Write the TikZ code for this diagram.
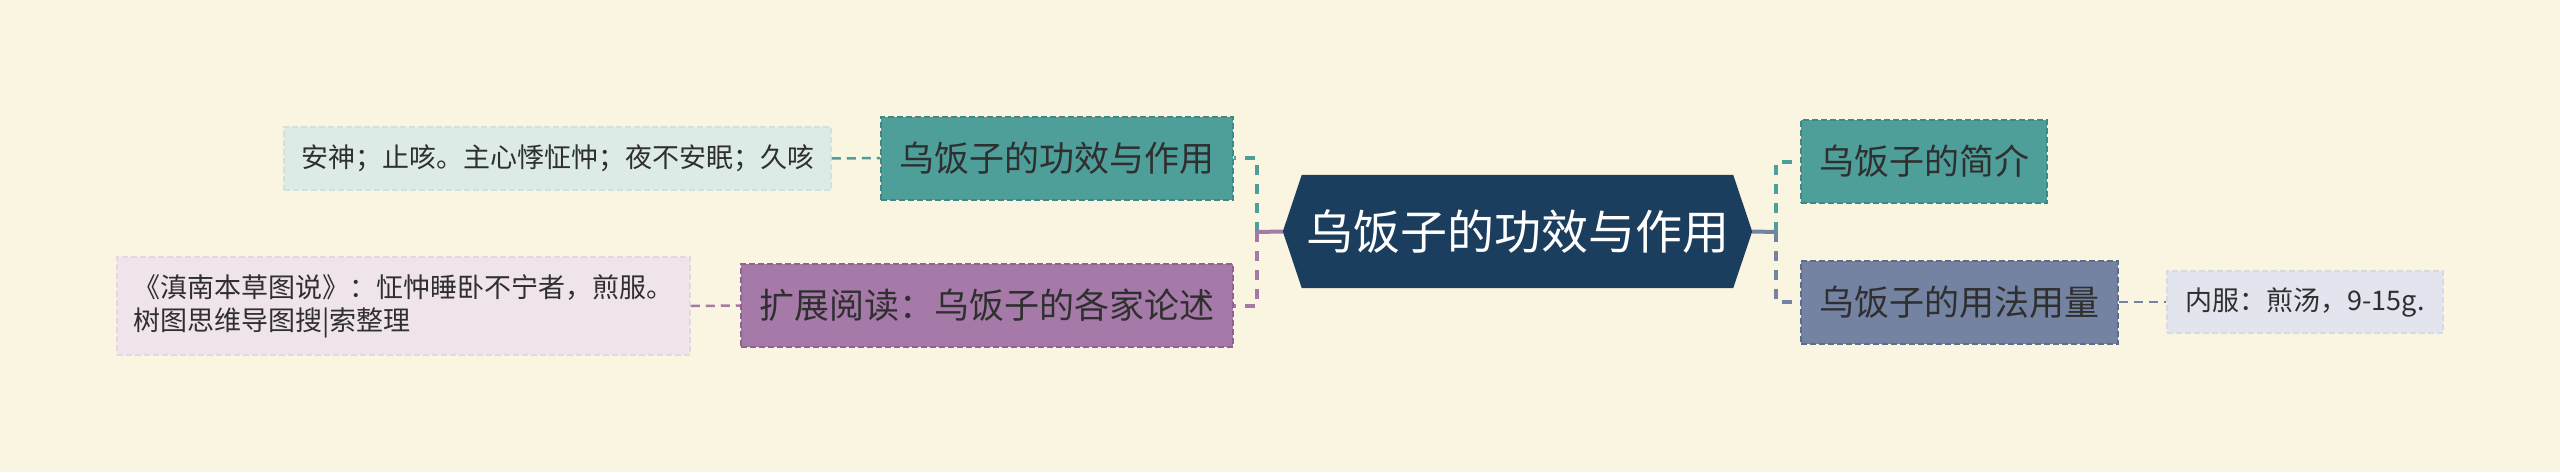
\documentclass[tikz,border=0pt]{standalone}
\usepackage{fontspec}
\setmainfont{Noto Sans CJK SC}
\usetikzlibrary{backgrounds}
\definecolor{bg}{HTML}{FAF5E0}
\definecolor{navy}{HTML}{1B3D5E}
\definecolor{tealF}{HTML}{4E9E9A}
\definecolor{tealD}{HTML}{3E8985}
\definecolor{purF}{HTML}{A67AA8}
\definecolor{purD}{HTML}{8E6291}
\definecolor{bluF}{HTML}{7483A2}
\definecolor{bluD}{HTML}{5E6B8A}
\definecolor{tealL}{HTML}{DCEBE5}
\definecolor{tealLD}{HTML}{CFE3DC}
\definecolor{purL}{HTML}{EFE3EC}
\definecolor{purLD}{HTML}{E5D6E1}
\definecolor{bluL}{HTML}{E3E5EE}
\definecolor{bluLD}{HTML}{D6DAE5}
\definecolor{txt}{HTML}{2F2F2F}
\begin{document}
\begin{tikzpicture}[x=1pt,y=-1pt,
  branch/.style={rectangle, inner sep=0pt, minimum height=83pt, line width=2pt,
    dash pattern=on 6pt off 3pt, text=txt, font=\fontsize{35}{42}\selectfont},
  leaf/.style={rectangle, inner sep=0pt, line width=1.5pt,
    dash pattern=on 6pt off 3pt, font=\fontsize{27}{33}\selectfont},
  conn/.style={line width=2.5pt, dash pattern=on 9pt off 6pt},
  vconn/.style={line width=4pt, dash pattern=on 10pt off 9pt},
  solidconn/.style={line width=4pt}]
\begin{scope}[on background layer]
\fill[bg] (0,0) rectangle (2560,472);
\end{scope}
\useasboundingbox (0,0) rectangle (2560,472);

% central node
\node[rectangle, inner sep=0pt, minimum width=469pt, minimum height=113pt,
  text=white, font=\fontsize{47}{56}\selectfont] (c) at (1517.5,231.5) {乌饭子的功效与作用};
\begin{scope}[on background layer]
\fill[navy] (c.west) -- ([xshift=19pt]c.north west) -- ([xshift=-19pt]c.north east)
  -- (c.east) -- ([xshift=-19pt]c.south east) -- ([xshift=19pt]c.south west) -- cycle;
\end{scope}

% branches
\node[branch, fill=tealF, draw=tealD, minimum width=352pt] (b1) at (1057,158) {乌饭子的功效与作用};
\node[branch, fill=purF, draw=purD, minimum width=492pt] (b2) at (987,305.5) {扩展阅读：乌饭子的各家论述};
\node[branch, fill=tealF, draw=tealD, minimum width=246pt] (r1) at (1924,161.5) {乌饭子的简介};
\node[branch, fill=bluF, draw=bluD, minimum width=317pt] (r2) at (1959.5,302) {乌饭子的用法用量};

% leaves
\node[leaf, fill=tealL, draw=tealLD, minimum width=547pt, minimum height=63pt, text=txt] (l1) at (557.5,158.5) {安神；止咳。主心悸怔忡；夜不安眠；久咳};
\node[leaf, fill=purL, draw=purLD, minimum width=573pt, minimum height=98pt, text=txt, align=left] (l2) at (403.5,306) {《滇南本草图说》：怔忡睡卧不宁者，煎服。\\树图思维导图搜|索整理};
\node[leaf, fill=bluL, draw=bluLD, minimum width=276pt, minimum height=62pt, text=txt] (l3) at (2305,302) {内服：煎汤，9-15g.};

% junctions
\coordinate (jl) at (1257,232);
\coordinate (jr) at (1776,232);

\draw[vconn, tealF] (jl) |- (b1.east);
\draw[vconn, purF] (jl) |- (b2.east);
\draw[vconn, tealF] (jr) |- (r1.west);
\draw[vconn, bluF] (jr) |- (r2.west);
\draw[solidconn, purF] (c.west) -- (jl);
\draw[solidconn, bluF] (c.east) -- (jr);

\draw[conn, tealF] (l1.east) -- (b1.west);
\draw[conn, purF] (l2.east) -- (b2.west);
\draw[conn, bluF] (r2.east) -- (l3.west);
\end{tikzpicture}
\end{document}
